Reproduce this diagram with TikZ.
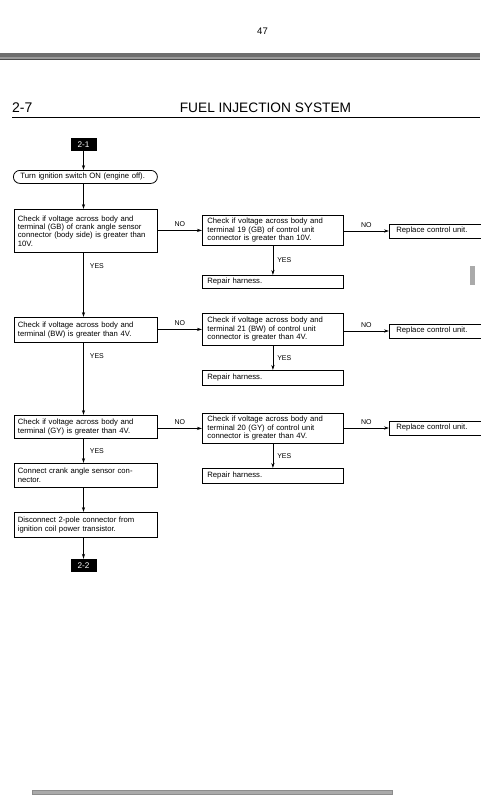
\documentclass[tikz,border=0pt]{standalone}
\usepackage{fontspec}
\setmainfont{Liberation Sans}
\usetikzlibrary{arrows.meta}
\definecolor{rulegray}{HTML}{6E6E6E}
\definecolor{lightrule}{HTML}{9A9A9A}
\definecolor{bargray}{HTML}{AAAAAA}
\begin{document}
\begin{tikzpicture}[x=1pt,y=-1pt,
  boxtxt/.style={font=\fontsize{7.7}{8.4}\selectfont},
  lbox/.style={draw, line width=0.8pt, anchor=north west, align=left, inner xsep=3.5pt, inner ysep=1pt, boxtxt, text width=136pt},
  mbox/.style={draw, line width=0.8pt, anchor=north west, align=left, inner xsep=5pt, inner ysep=1pt, boxtxt, text width=131pt},
  rbox/.style={draw, line width=0.8pt, anchor=north west, align=left, inner xsep=7pt, inner ysep=1pt, boxtxt, text width=82pt, minimum height=14pt},
  tagbox/.style={fill=black, text=white, minimum width=26pt, minimum height=13pt, inner sep=0pt, font=\fontsize{8.2}{9}\selectfont},
  lab/.style={font=\fontsize{7}{8}\selectfont, inner sep=0pt},
  arr/.style={line width=0.7pt, -{Stealth[length=5pt,width=3.2pt]}},
  ]
\useasboundingbox (0,0) rectangle (480,800);
% header
\node[anchor=base, font=\fontsize{9.5}{10}\selectfont, inner sep=0pt] (pg) at (262.5,35) {47};
\fill[rulegray] (0,52.7) rectangle (480,56.7);
\fill[lightrule] (0,57.3) rectangle (480,59.3);
\draw[line width=0.5pt, black!70] (0,59.2) -- (480,59.2);
\node[anchor=base west, font=\fontsize{14}{14}\selectfont, inner sep=0pt] (sec) at (12,112) {2-7};
\node[anchor=base, font=\fontsize{13.7}{14}\selectfont, inner sep=0pt] (title) at (265.5,112) {FUEL INJECTION SYSTEM};
\draw[line width=1.3pt] (12,117.5) -- (480,117.5);
% side tab and bottom bar
\fill[bargray] (470,266) rectangle (475,285);
\fill[bargray, draw=black!45, line width=0.3pt] (32,790) rectangle (392,794);

% left column
\node[tagbox] (t21) at (83.5,144.5) {2-1};
\node[draw, line width=0.8pt, rounded corners=6.5pt, anchor=north west, boxtxt, minimum width=144pt, minimum height=13pt, inner ysep=0pt, inner xsep=7pt, text width=130pt, align=left] (turn) at (13,170) {Turn ignition switch ON (engine off).};
\node[lbox, minimum height=43pt] (b1) at (14,209) {Check if voltage across body and\\terminal (GB) of crank angle sensor\\connector (body side) is greater than\\10V.};
\node[lbox, minimum height=25pt] (b2) at (14,317) {Check if voltage across body and\\terminal (BW) is greater than 4V.};
\node[lbox, minimum height=23pt] (b3) at (14,415) {Check if voltage across body and\\terminal (GY) is greater than 4V.};
\node[lbox, minimum height=24pt] (b4) at (14,463) {Connect crank angle sensor con-\\nector.};
\node[lbox, minimum height=25pt] (b5) at (14,512) {Disconnect 2-pole connector from\\ignition coil power transistor.};
\node[tagbox] (t22) at (83.5,565.5) {2-2};

% middle column
\node[mbox, minimum height=30pt] (m1) at (202,215) {Check if voltage across body and\\terminal 19 (GB) of control unit\\connector is greater than 10V.};
\node[mbox, minimum height=13pt] (h1) at (202,275) {Repair harness.};
\node[mbox, minimum height=32pt] (m2) at (202,313) {Check if voltage across body and\\terminal 21 (BW) of control unit\\connector is greater than 4V.};
\node[mbox, minimum height=15pt] (h2) at (202,370) {Repair harness.};
\node[mbox, minimum height=30pt] (m3) at (202,413) {Check if voltage across body and\\terminal 20 (GY) of control unit\\connector is greater than 4V.};
\node[mbox, minimum height=15pt] (h3) at (202,468) {Repair harness.};

% right column
\node[rbox, anchor=west] (r1) at (389,231) {Replace control unit.};
\node[rbox, anchor=west] (r2) at (389,331) {Replace control unit.};
\node[rbox, anchor=west] (r3) at (389,428) {Replace control unit.};

% connectors left column
\draw[arr] (t21.south) -- (turn.north -| t21.south);
\draw[arr] (turn.south -| t21.south) -- (b1.north -| t21.south);
\draw[arr] (b1.south -| t21.south) -- node[lab, pos=0.2, right=6pt]{YES} (b2.north -| t21.south);
\draw[arr] (b2.south -| t21.south) -- node[lab, pos=0.18, right=6pt]{YES} (b3.north -| t21.south);
\draw[arr] (b3.south -| t21.south) -- node[lab, midway, right=6pt]{YES} (b4.north -| t21.south);
\draw[arr] (b4.south -| t21.south) -- (b5.north -| t21.south);
\draw[arr] (b5.south -| t21.south) -- (t22.north);

% NO connectors
\draw[arr] (m1.west -| b1.east) -- node[lab, above=3pt]{NO} (m1.west);
\draw[arr] (m2.west -| b2.east) -- node[lab, above=3pt]{NO} (m2.west);
\draw[arr] (m3.west -| b3.east) -- node[lab, above=3pt]{NO} (m3.west);
\draw[arr] (r1.west -| m1.east) -- node[lab, above=3pt]{NO} (r1.west);
\draw[arr] (r2.west -| m2.east) -- node[lab, above=3pt]{NO} (r2.west);
\draw[arr] (r3.west -| m3.east) -- node[lab, above=3pt]{NO} (r3.west);

% YES connectors middle
\draw[arr] (m1.south) -- node[lab, right=4pt]{YES} (h1.north);
\draw[arr] (m2.south) -- node[lab, right=4pt]{YES} (h2.north);
\draw[arr] (m3.south) -- node[lab, right=4pt]{YES} (h3.north);
\end{tikzpicture}
\end{document}
